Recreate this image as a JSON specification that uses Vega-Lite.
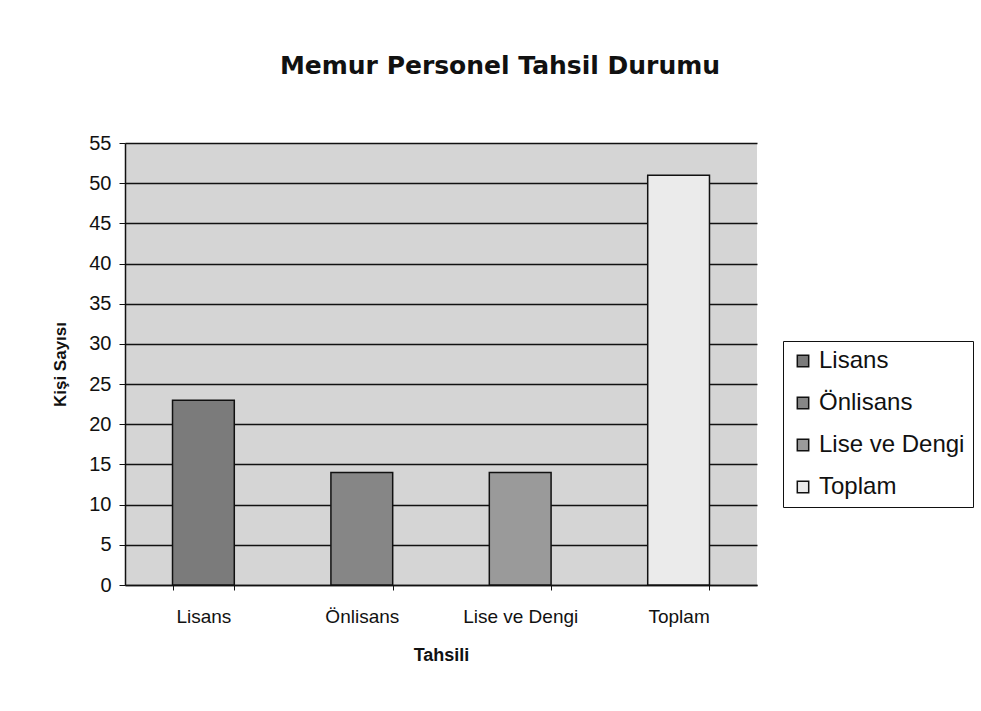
{
  "$schema": "https://vega.github.io/schema/vega-lite/v6.json",
  "autosize": "none",
  "width": 632,
  "height": 442,
  "padding": {"left": 125, "top": 143, "right": 224, "bottom": 126},
  "background": "white",
  "title": {
    "text": "Memur Personel Tahsil Durumu",
    "font": "DejaVu Sans",
    "fontSize": 25,
    "fontWeight": "bold",
    "color": "#111111",
    "anchor": "middle",
    "offset": 54,
    "dx": 59
  },
  "config": {
    "view": {"fill": "#d5d5d5", "stroke": null},
    "font": "Liberation Sans"
  },
  "data": {
    "values": [
      {"Tahsili": "Lisans", "Kisi": 23},
      {"Tahsili": "Önlisans", "Kisi": 14},
      {"Tahsili": "Lise ve Dengi", "Kisi": 14},
      {"Tahsili": "Toplam", "Kisi": 51}
    ]
  },
  "mark": {"type": "bar", "stroke": "#111111", "strokeWidth": 1.5},
  "encoding": {
    "x": {
      "field": "Tahsili",
      "type": "nominal",
      "sort": null,
      "scale": {"paddingInner": 0.61, "paddingOuter": 0.3},
      "axis": {
        "title": "Tahsili",
        "titleFontSize": 18,
        "titleFontWeight": "bold",
        "titleColor": "#111111",
        "titlePadding": 20,
        "labelAngle": 0,
        "labelFontSize": 19,
        "labelColor": "#111111",
        "labelPadding": 17,
        "domainColor": "#111111",
        "domainWidth": 1.5,
        "tickColor": "#111111",
        "tickBand": "extent",
        "tickSize": 5,
        "grid": false
      }
    },
    "y": {
      "field": "Kisi",
      "type": "quantitative",
      "scale": {"domain": [0, 55], "nice": false},
      "axis": {
        "title": "Kişi Sayısı",
        "titleFontSize": 17,
        "titleFontWeight": "bold",
        "titleColor": "#111111",
        "titlePadding": 19,
        "values": [0, 5, 10, 15, 20, 25, 30, 35, 40, 45, 50, 55],
        "labelFontSize": 20,
        "labelColor": "#111111",
        "labelPadding": 8,
        "domainColor": "#111111",
        "domainWidth": 1.5,
        "tickColor": "#111111",
        "tickSize": 6,
        "grid": true,
        "gridColor": "#111111",
        "gridWidth": 1.5
      }
    },
    "fill": {
      "field": "Tahsili",
      "type": "nominal",
      "sort": null,
      "scale": {
        "domain": ["Lisans", "Önlisans", "Lise ve Dengi", "Toplam"],
        "range": ["#7b7b7b", "#868686", "#9a9a9a", "#ebebeb"]
      },
      "legend": {
        "title": null,
        "orient": "none",
        "legendX": 658,
        "legendY": 198,
        "strokeColor": "#111111",
        "fillColor": "white",
        "padding": 8,
        "symbolType": "square",
        "symbolSize": 130,
        "symbolStrokeColor": "#111111",
        "symbolStrokeWidth": 1.5,
        "labelFontSize": 24,
        "labelColor": "#111111",
        "labelOffset": 4,
        "rowPadding": 18,
        "labelLimit": 300
      }
    }
  }
}
